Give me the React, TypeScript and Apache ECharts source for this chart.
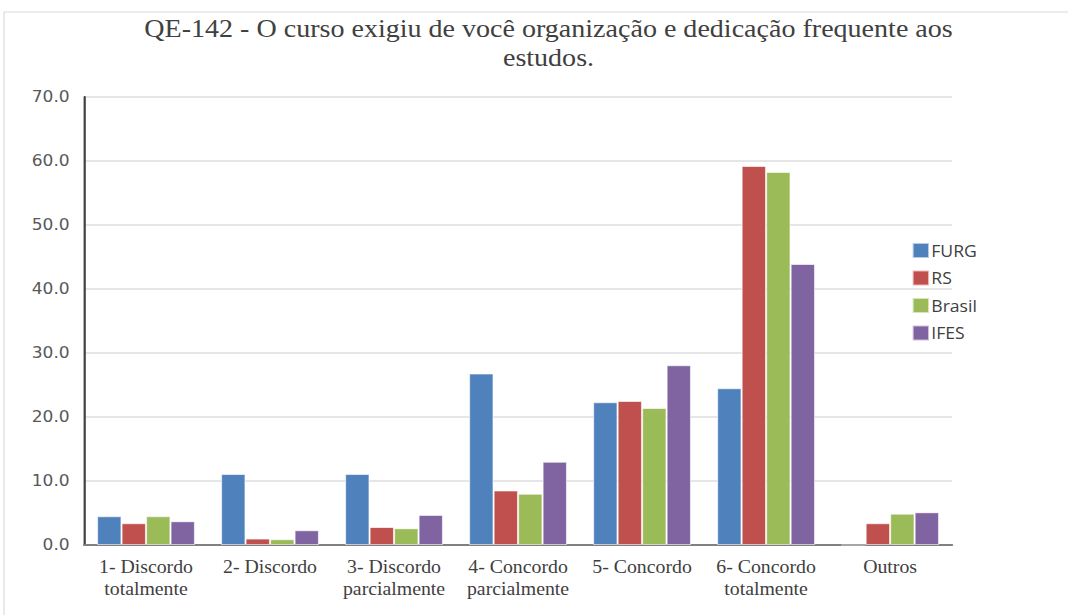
import React, { useEffect, useRef } from "react";
import * as echarts from "echarts";

const categories = [
  "1- Discordo\ntotalmente",
  "2- Discordo",
  "3- Discordo\nparcialmente",
  "4- Concordo\nparcialmente",
  "5- Concordo",
  "6- Concordo\ntotalmente",
  "Outros",
];
const furg = [4.5, 11.1, 11.1, 26.8, 22.3, 24.5, 0];
const rs = [3.4, 1.0, 2.8, 8.5, 22.5, 59.2, 3.4];
const brasil = [4.5, 0.9, 2.6, 8.0, 21.4, 58.3, 4.9];
const ifes = [3.7, 2.3, 4.7, 13.0, 28.1, 43.9, 5.1];
const seriesNames = ["FURG", "RS", "Brasil", "IFES"];
const colors = ["#4F81BD", "#C0504D", "#9BBB59", "#8064A2"];
const titleText = "QE-142 - O curso exigiu de você organização e dedicação frequente aos\nestudos.";

const W = 1068;
const H = 615;
const S = 1.1; // horizontal stretch of the reference rendering

export default function App() {
  const ref = useRef<HTMLDivElement>(null);
  useEffect(() => {
    if (!ref.current) return;
    const chart = echarts.init(ref.current, null, { renderer: "svg" });
    const data = [furg, rs, brasil, ifes];
    chart.setOption({
      animation: false,
      backgroundColor: "#ffffff",
      title: {
        text: titleText,
        left: 543 / S,
        textAlign: "center",
        top: 9,
        textStyle: {
          fontFamily: "Liberation Serif",
          fontSize: 25.5,
          fontWeight: "normal",
          color: "#404040",
          lineHeight: 29,
        },
      },
      graphic: [
        {
          type: "rect",
          shape: { x: 4 / S, y: 12, width: 1200, height: 800 },
          style: { fill: "none", stroke: "#d9d9d9", lineWidth: 1 },
          silent: true,
        },
      ],
      legend: {
        orient: "vertical",
        left: 906 / S,
        top: 237,
        itemWidth: 15,
        itemHeight: 15,
        itemGap: 10.5,
        icon: "rect",
        data: seriesNames,
        textStyle: {
          fontFamily: "Open Sans",
          fontSize: 16,
          lineHeight: 16,
          color: "#404040",
          padding: [0, 0, 0, -3],
        },
      },
      grid: { left: 84 / S, right: 116 / S, top: 97, bottom: 70, containLabel: false },
      xAxis: {
        type: "category",
        data: categories,
        axisLine: { lineStyle: { color: "#808080", width: 2 } },
        axisTick: { show: false },
        axisLabel: {
          interval: 0,
          margin: 11,
          fontFamily: "Liberation Serif",
          fontSize: 18,
          color: "#404040",
          lineHeight: 22,
        },
      },
      yAxis: {
        type: "value",
        min: 0,
        max: 70,
        interval: 10,
        axisLine: { show: true, lineStyle: { color: "#404040", width: 2 } },
        axisTick: { show: false },
        splitLine: { lineStyle: { color: "#e6e6e6", width: 2 } },
        axisLabel: {
          formatter: (v: number) => v.toFixed(1),
          margin: 13,
          fontFamily: "DejaVu Sans",
          fontSize: 15.5,
          color: "#595959",
        },
      },
      series: seriesNames.map((name, i) => ({
        name,
        type: "bar",
        data: data[i],
        barGap: "0%",
        barCategoryGap: "21%",
        itemStyle: { color: colors[i], borderColor: "rgba(255,255,255,0.6)", borderWidth: 1 },
      })),
    });
    return () => chart.dispose();
  }, []);
  return (
    <div
      style={{ position: "absolute", left: 0, top: 0, width: W, height: H, overflow: "hidden" }}
    >
      <div
        ref={ref}
        style={{
          width: W / S,
          height: H,
          transform: `scaleX(${S})`,
          transformOrigin: "0 0",
        }}
      />
    </div>
  );
}
